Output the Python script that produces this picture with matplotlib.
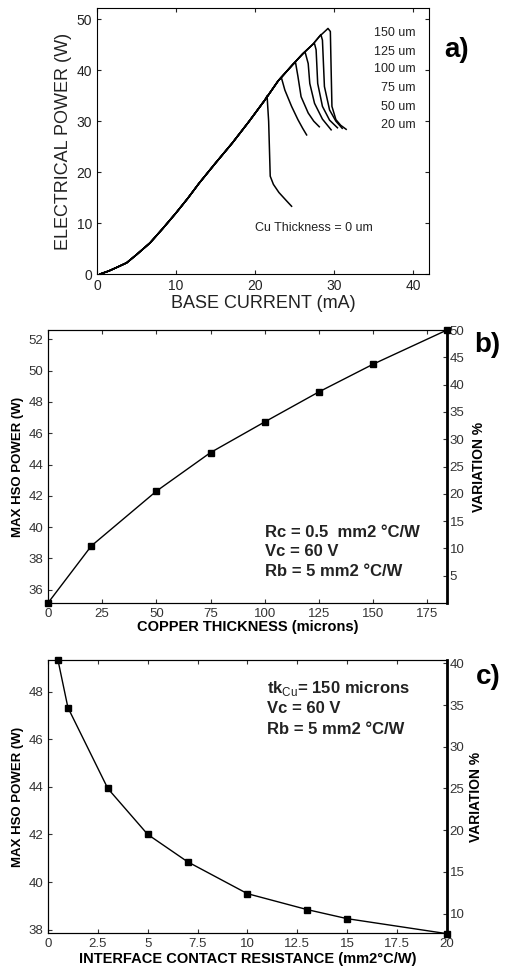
import matplotlib
matplotlib.use('Agg')
import matplotlib.pyplot as plt
from matplotlib.ticker import MultipleLocator, FixedLocator

plt.rcParams['font.family'] = ['Liberation Sans', 'DejaVu Sans']
plt.rcParams['mathtext.fontset'] = 'custom'
plt.rcParams['mathtext.rm'] = 'Liberation Sans'
plt.rcParams['mathtext.bf'] = 'Liberation Sans:bold'

# ---- panel a: electrical power vs base current ----
base_x = [0.4, 1.5, 2.5, 3.75, 5.0, 6.7, 8.3, 10.0, 11.5, 12.9, 15.0, 17.1, 19.2, 21.25, 22.9, 24.8, 26.0, 27.3, 28.1, 29.0]
base_y = [0.0, 0.6, 1.3, 2.2, 3.8, 6.1, 8.9, 12.0, 14.9, 17.8, 21.8, 25.7, 29.9, 34.2, 37.9, 41.2, 43.2, 45.1, 46.6, 47.9]

thick_names = ['0 um', '20 um', '50 um', '75 um', '100 um', '125 um', '150 um']
peak_x = [21.25, 22.9, 24.8, 26.0, 27.3, 28.1, 29.0]
tail_x = [
    [21.5, 21.7, 21.9, 22.3, 23.0, 24.0, 24.6],
    [23.3, 23.75, 24.6, 25.4, 26.0, 26.5],
    [25.1, 25.4, 25.8, 26.7, 27.4, 28.1],
    [26.3, 26.7, 26.9, 27.5, 28.5, 29.6],
    [27.5, 27.7, 27.9, 28.5, 29.4, 30.4],
    [28.3, 28.5, 28.75, 29.4, 30.2, 31.0],
    [29.2, 29.5, 29.6, 29.7, 30.2, 30.8, 31.5],
]
tail_y = [
    [35.0, 30.0, 19.2, 17.6, 16.0, 14.3, 13.3],
    [38.6, 36.1, 32.9, 30.3, 28.6, 27.3],
    [41.5, 38.8, 34.8, 31.6, 30.0, 28.9],
    [43.6, 41.3, 37.4, 33.5, 30.4, 28.3],
    [45.2, 44.0, 37.4, 32.9, 30.2, 28.7],
    [47.0, 45.9, 36.8, 32.2, 30.0, 28.6],
    [48.2, 47.6, 40.0, 32.9, 30.3, 29.2, 28.4],
]

# ---- panel b: max HSO power vs copper thickness ----
cu_thick = [0, 20, 50, 75, 100, 125, 150, 184]
power_b = [35.15, 38.8, 42.3, 44.77, 46.73, 48.65, 50.42, 52.6]

# ---- panel c: max HSO power vs interface contact resistance ----
contact_r = [0.5, 1, 3, 5, 7, 10, 13, 15, 20]
power_c = [49.33, 47.33, 43.93, 42.0, 40.85, 39.51, 38.84, 38.46, 37.83]
c_ticks = [0, 2.5, 5, 7.5, 10, 12.5, 15, 17.5, 20]
c_ticklabels = ['0', '2.5', '5', '7.5', '10', '12.5', '15', '17.5', '20']

fig = plt.figure(figsize=(5.05, 9.69), dpi=100)

# panel a
ax1 = fig.add_axes([0.192, 0.7172, 0.658, 0.2745])
for i in range(len(thick_names)):
    xs = [x for x in base_x if x <= peak_x[i]] + tail_x[i]
    ys = [y for x, y in zip(base_x, base_y) if x <= peak_x[i]] + tail_y[i]
    ax1.plot(xs, ys, color='black', lw=1.1)
ax1.set_xlim(0, 42)
ax1.set_ylim(0, 52.2)
ax1.xaxis.set_major_locator(MultipleLocator(10))
ax1.yaxis.set_major_locator(MultipleLocator(10))
ax1.tick_params(direction='in', length=3, labelsize=10, colors='#222222',
                top=True, right=True)
ax1.set_xlabel('BASE CURRENT (mA)', fontsize=13, color='#222222')
ax1.set_ylabel('ELECTRICAL POWER (W)', fontsize=13, color='#222222')
ax1.xaxis.set_label_coords(0.5, -0.079)
ax1.yaxis.set_label_coords(-0.075, 0.5)
label_y = [0.173, 0.560, 0.628, 0.699, 0.771, 0.835, 0.906]
for i in range(1, len(thick_names)):
    ax1.text(0.958, label_y[i], thick_names[i], transform=ax1.transAxes,
             ha='right', va='center', fontsize=9, color='#222222')
ax1.text(0.476, label_y[0], 'Cu Thickness = ' + thick_names[0], transform=ax1.transAxes,
         ha='left', va='center', fontsize=9, color='#222222')

# panel b
ax2 = fig.add_axes([0.095, 0.3777, 0.790, 0.2817])
ax2.plot(cu_thick, power_b, color='black', lw=1.0, marker='s', ms=5, clip_on=False, zorder=5)
ax2.set_xlim(0, 184)
ax2.set_ylim(35.15, 52.6)
ax2.xaxis.set_major_locator(MultipleLocator(25))
ax2.yaxis.set_major_locator(MultipleLocator(2))
ax2.tick_params(direction='in', length=3, labelsize=9.5, colors='#333333', top=True)
ax2.set_xlabel('COPPER THICKNESS (microns)', fontsize=10.5, fontweight='bold')
ax2.set_ylabel('MAX HSO POWER (W)', fontsize=9.5, fontweight='bold')
ax2.xaxis.set_label_coords(0.5, -0.062)
ax2.yaxis.set_label_coords(-0.06, 0.5)
ax2r = ax2.twinx()
ax2r.set_ylim(0, 50)
ax2r.yaxis.set_major_locator(FixedLocator(list(range(5, 51, 5))))
ax2r.tick_params(direction='in', length=3, labelsize=9.5, colors='#333333', pad=2)
ax2r.spines['right'].set_linewidth(2)
ax2r.set_ylabel('VARIATION %', fontsize=10, fontweight='bold')
ax2r.yaxis.set_label_coords(1.063, 0.5)
for j, s in enumerate(['Rc = 0.5  mm2 \u00b0C/W', 'Vc = 60 V', 'Rb = 5 mm2 \u00b0C/W']):
    ax2.text(0.544, 0.26 - j * 0.073, s, transform=ax2.transAxes, ha='left', va='center',
             fontsize=12, fontweight='bold', color='#222222')

# panel c
ax3 = fig.add_axes([0.095, 0.0372, 0.790, 0.2817])
ax3.plot(contact_r, power_c, color='black', lw=1.0, marker='s', ms=5, clip_on=False, zorder=5)
ax3.set_xlim(0, 20)
ax3.set_ylim(37.86, 49.33)
ax3.xaxis.set_major_locator(FixedLocator(c_ticks))
ax3.set_xticklabels(c_ticklabels)
ax3.yaxis.set_major_locator(MultipleLocator(2))
ax3.tick_params(direction='in', length=3, labelsize=9.5, colors='#333333', top=True)
ax3.set_xlabel('INTERFACE CONTACT RESISTANCE (mm2\u00b0C/W)', fontsize=10.5, fontweight='bold')
ax3.set_ylabel('MAX HSO POWER (W)', fontsize=9.5, fontweight='bold')
ax3.xaxis.set_label_coords(0.5, -0.07)
ax3.yaxis.set_label_coords(-0.06, 0.5)
ax3r = ax3.twinx()
ax3r.set_ylim(7.68, 40.4)
ax3r.yaxis.set_major_locator(FixedLocator(list(range(10, 41, 5))))
ax3r.tick_params(direction='in', length=3, labelsize=9.5, colors='#333333', pad=2)
ax3r.spines['right'].set_linewidth(2)
ax3r.set_ylabel('VARIATION %', fontsize=10, fontweight='bold')
ax3r.yaxis.set_label_coords(1.055, 0.5)
for j, s in enumerate([r'tk$_{\rm Cu}$= 150 microns', 'Vc = 60 V', 'Rb = 5 mm2 \u00b0C/W']):
    ax3.text(0.549, 0.897 - j * 0.075, s, transform=ax3.transAxes, ha='left', va='center',
             fontsize=12, fontweight='bold', color='#222222')

fig.text(0.905, 0.948, 'a)', fontsize=20, fontweight='bold', ha='center', va='center')
fig.text(0.964, 0.644, 'b)', fontsize=20, fontweight='bold', ha='center', va='center')
fig.text(0.966, 0.301, 'c)', fontsize=20, fontweight='bold', ha='center', va='center')

fig.savefig('out.png', dpi=100)
